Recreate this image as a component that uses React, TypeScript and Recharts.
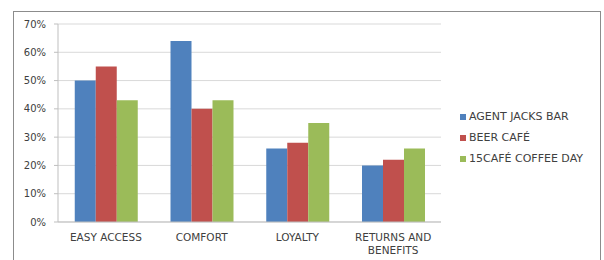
import React from 'react';
import { BarChart, Bar, XAxis, YAxis, CartesianGrid } from 'recharts';

const categories = ['EASY ACCESS', 'COMFORT', 'LOYALTY', 'RETURNS AND BENEFITS'];
const agentJacksBar = [0.5, 0.64, 0.26, 0.2];
const beerCafe = [0.55, 0.4, 0.28, 0.22];
const cafeCoffeeDay = [0.43, 0.43, 0.35, 0.26];
const yTicks = [0, 0.1, 0.2, 0.3, 0.4, 0.5, 0.6, 0.7];

const series = [
  { key: 'agent', name: 'AGENT JACKS BAR', color: '#4F81BD' },
  { key: 'beer', name: 'BEER CAFÉ', color: '#C0504D' },
  { key: 'ccd', name: '15CAFÉ COFFEE DAY', color: '#9BBB59' },
];

const data = categories.map((cat, i) => ({
  cat,
  agent: agentJacksBar[i],
  beer: beerCafe[i],
  ccd: cafeCoffeeDay[i],
}));

const FONT = '"DejaVu Sans", sans-serif';

// wrap labels longer than ~12 chars at word boundaries
const wrap = (s: string, max = 12) => {
  const lines: string[] = [];
  let cur = '';
  s.split(' ').forEach((w) => {
    const next = cur ? cur + ' ' + w : w;
    if (next.length > max && cur) {
      lines.push(cur);
      cur = w;
    } else cur = next;
  });
  if (cur) lines.push(cur);
  return lines;
};

const CategoryTick = (props: any) => {
  const { x, y, payload } = props;
  return (
    <text
      x={x}
      y={y + 11}
      textAnchor="middle"
      fontFamily={FONT}
      fontSize={10.5}
      fill="#404040"
    >
      {wrap(payload.value).map((line, i) => (
        <tspan key={i} x={x} dy={i === 0 ? 0 : 13}>
          {line}
        </tspan>
      ))}
    </text>
  );
};

export default function App() {
  return (
    <div style={{ position: 'fixed', left: 0, top: 0, width: 604, height: 260, background: '#fff' }}>
      <div
        style={{
          position: 'absolute',
          left: 13,
          top: 11,
          width: 588,
          height: 260,
          border: '1px solid #8c8c8c',
          boxSizing: 'border-box',
        }}
      />
      <BarChart
        width={604}
        height={260}
        data={data}
        margin={{ top: 24, right: 163, bottom: 0, left: 0 }}
        barCategoryGap="17.5%"
        barGap={0}
        style={{ position: 'absolute', left: 0, top: 0 }}
      >
        <CartesianGrid vertical={false} stroke="#d9d9d9" />
        <XAxis
          dataKey="cat"
          height={38}
          axisLine={{ stroke: '#bfbfbf' }}
          tickLine={false}
          tick={<CategoryTick />}
          interval={0}
        />
        <YAxis
          width={58}
          domain={[0, 0.7]}
          ticks={yTicks}
          axisLine={{ stroke: '#bfbfbf' }}
          tickLine={{ stroke: '#bfbfbf' }}
          tickSize={4}
          tickMargin={8}
          tickFormatter={(v: number) => `${Math.round(v * 100)}%`}
          tick={{ fontFamily: FONT, fontSize: 10, fill: '#404040' }}
        />
        {series.map((s) => (
          <Bar
            key={s.key}
            dataKey={s.key}
            name={s.name}
            fill={s.color}
            isAnimationActive={false}
          />
        ))}
      </BarChart>
      <div
        style={{
          position: 'absolute',
          left: 460,
          top: 106,
          fontFamily: FONT,
          fontSize: 11,
          color: '#404040',
        }}
      >
        {series.map((s) => (
          <div key={s.key} style={{ display: 'flex', alignItems: 'center', height: 21.2 }}>
            <span style={{ width: 6, height: 6, background: s.color, marginRight: 3 }} />
            {s.name}
          </div>
        ))}
      </div>
    </div>
  );
}
